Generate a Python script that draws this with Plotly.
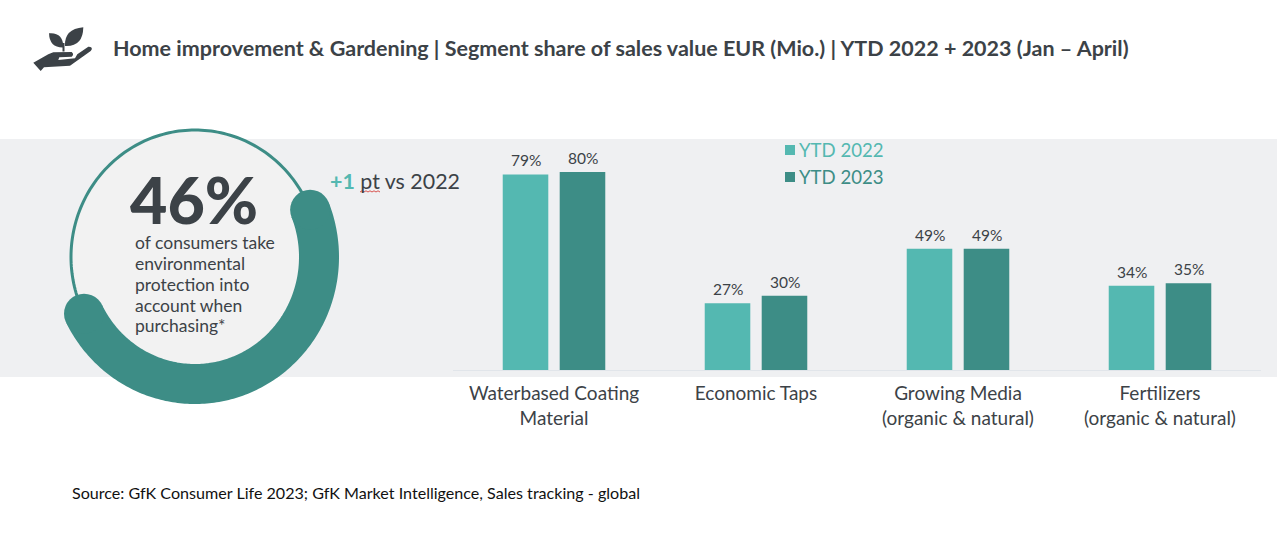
import numpy as np
import plotly.graph_objects as go

categories = ["Waterbased Coating<br>Material", "Economic Taps",
              "Growing Media<br>(organic &amp; natural)", "Fertilizers<br>(organic &amp; natural)"]
ytd_2022 = [79, 27, 49, 34]
ytd_2023 = [80, 30, 49, 35]
arc_start_deg = -21.8
arc_end_deg = 153.5

INK = "#3C4247"
TEAL_L = "#54B8B1"
TEAL_D = "#3D8D86"
W, H = 1277, 540

fig = go.Figure()
for name, vals, col, dx in (("YTD 2022", ytd_2022, TEAL_L, -28.5), ("YTD 2023", ytd_2023, TEAL_D, 28.5)):
    fig.add_trace(go.Bar(x=categories, y=vals, name=name, marker_color=col, marker_line_width=0, showlegend=False))
    for c, v in zip(categories, vals):
        fig.add_annotation(xref="x", yref="y", x=c, y=v, text=f"{v}%", showarrow=False, xshift=dx, yshift=14,
                           yanchor="middle", font=dict(family="Lato", size=15.5, color=INK))

# ring, in a pixel-scaled second subplot
cx, cy, rx, ry = 195, 257, 124, 127
t = np.radians(np.linspace(0, 360, 241))
fig.add_trace(go.Scatter(x=cx + rx*np.cos(t), y=cy + ry*np.sin(t), mode="lines", xaxis="x2", yaxis="y2",
                         line=dict(color=TEAL_D, width=3, simplify=False), fill="toself", fillcolor="#F2F2F2",
                         showlegend=False, hoverinfo="skip"))
a = np.radians(np.linspace(arc_start_deg, arc_end_deg, 181))
fig.add_trace(go.Scatter(x=cx + rx*np.cos(a), y=cy + ry*np.sin(a), mode="lines", xaxis="x2", yaxis="y2",
                         line=dict(color=TEAL_D, width=40, simplify=False), showlegend=False, hoverinfo="skip"))
fig.add_trace(go.Scatter(x=[cx + rx*np.cos(a[0]), cx + rx*np.cos(a[-1])],
                         y=[cy + ry*np.sin(a[0]), cy + ry*np.sin(a[-1])], mode="markers", xaxis="x2", yaxis="y2",
                         marker=dict(color=TEAL_D, size=40, line_width=0), showlegend=False, hoverinfo="skip"))

def note(x, y, text, size, color=INK, weight="normal"):
    fig.add_annotation(xref="x2", yref="y2", x=x - 2, y=y, text=text, showarrow=False, xanchor="left", yanchor="middle",
                       align="left", font=dict(family="Lato", size=size, color=color, weight=weight))

note(113, 48, "<b>Home improvement &amp; Gardening | Segment share of sales value EUR (Mio.) | YTD 2022 + 2023 (Jan – April)</b>", 21.5)
note(130, 199, "46%", 64.5, weight=900)
for yy, line in zip((242, 263, 284, 305, 325),
                    ("of consumers take", "environmental", "protection into", "account when", "purchasing*")):
    note(135, yy, line, 17.5)
note(330, 181, f"<b><span style='color:{TEAL_L}'>+1</span></b> pt vs 2022", 21.4)
note(799, 150, "YTD 2022", 18.6, TEAL_L)
note(799, 177, "YTD 2023", 18.6, TEAL_D)
note(72, 492, "Source: GfK Consumer Life 2023; GfK Market Intelligence, Sales tracking - global", 16.1, "#111111")

def shape_rect(x0, y0, x1, y1, col):
    return dict(type="rect", xref="x2", yref="y2", x0=x0, y0=y0, x1=x1, y1=y1, fillcolor=col, line_width=0)

hand = ("M33.3,62.7 L48.3,54.3 L53.3,52.3 L71.7,52 Q74.5,54.3 71.7,56.7 L59.3,57.3 L58.3,60 L75,58.3 L77.3,54.3 "
        "L88.3,46.7 Q92.5,46.5 91.7,49.5 L90.7,51 L70,65.7 L44,67.3 L40.7,71 Z")
leaf_l = "M49,33.3 Q63,32 63.5,47.5 Q49.5,48 49,33.3 Z"
leaf_r = "M83.3,27.3 Q64,29 65,46 Q83,47 83.3,27.3 Z"
stem = "M62.5,43 L64.5,43 L64.5,51.5 L62.5,51.5 Z"
icon = [dict(type="path", xref="x2", yref="y2", path=p, fillcolor=INK, line_width=0) for p in (hand, leaf_l, leaf_r, stem)]
squiggle = dict(type="path", xref="x2", yref="y2", line=dict(color="#D9534F", width=1),
                path="M360,192 L362,190.8 L364,192 L366,190.8 L368,192 L370,190.8 L372,192 L374,190.8 L376,192 L378,190.8 L380,192")

band = dict(type="rect", xref="paper", yref="paper", x0=0, x1=1, y0=1-377/H, y1=1-139/H,
            fillcolor="#EFF0F2", line_width=0, layer="below")

fig.update_layout(
    width=W, height=H, autosize=False, margin=dict(l=0, r=0, t=0, b=0),
    paper_bgcolor="white", plot_bgcolor="rgba(0,0,0,0)",
    barmode="group", bargap=0.436, bargroupgap=0.2, showlegend=False,
    shapes=[band, shape_rect(785, 145, 795, 155, TEAL_L), shape_rect(785, 172, 795, 182, TEAL_D), squiggle] + icon,
    xaxis=dict(domain=[453/W, 1261/W], anchor="y", showgrid=False, linecolor="#E1E5EA", linewidth=1,
               ticks="outside", ticklen=6, tickcolor="rgba(0,0,0,0)",
               tickfont=dict(family="Lato", size=19, color=INK)),
    yaxis=dict(domain=[170/H, 440/H], range=[0, 270/2.475], visible=False),
    xaxis2=dict(domain=[0, 1], range=[0, W], anchor="y2", visible=False),
    yaxis2=dict(domain=[0, 1], range=[H, 0], anchor="x2", visible=False),
)
fig.write_html("out.html", post_script="document.body.style.margin='0';", config=dict(displayModeBar=False))
